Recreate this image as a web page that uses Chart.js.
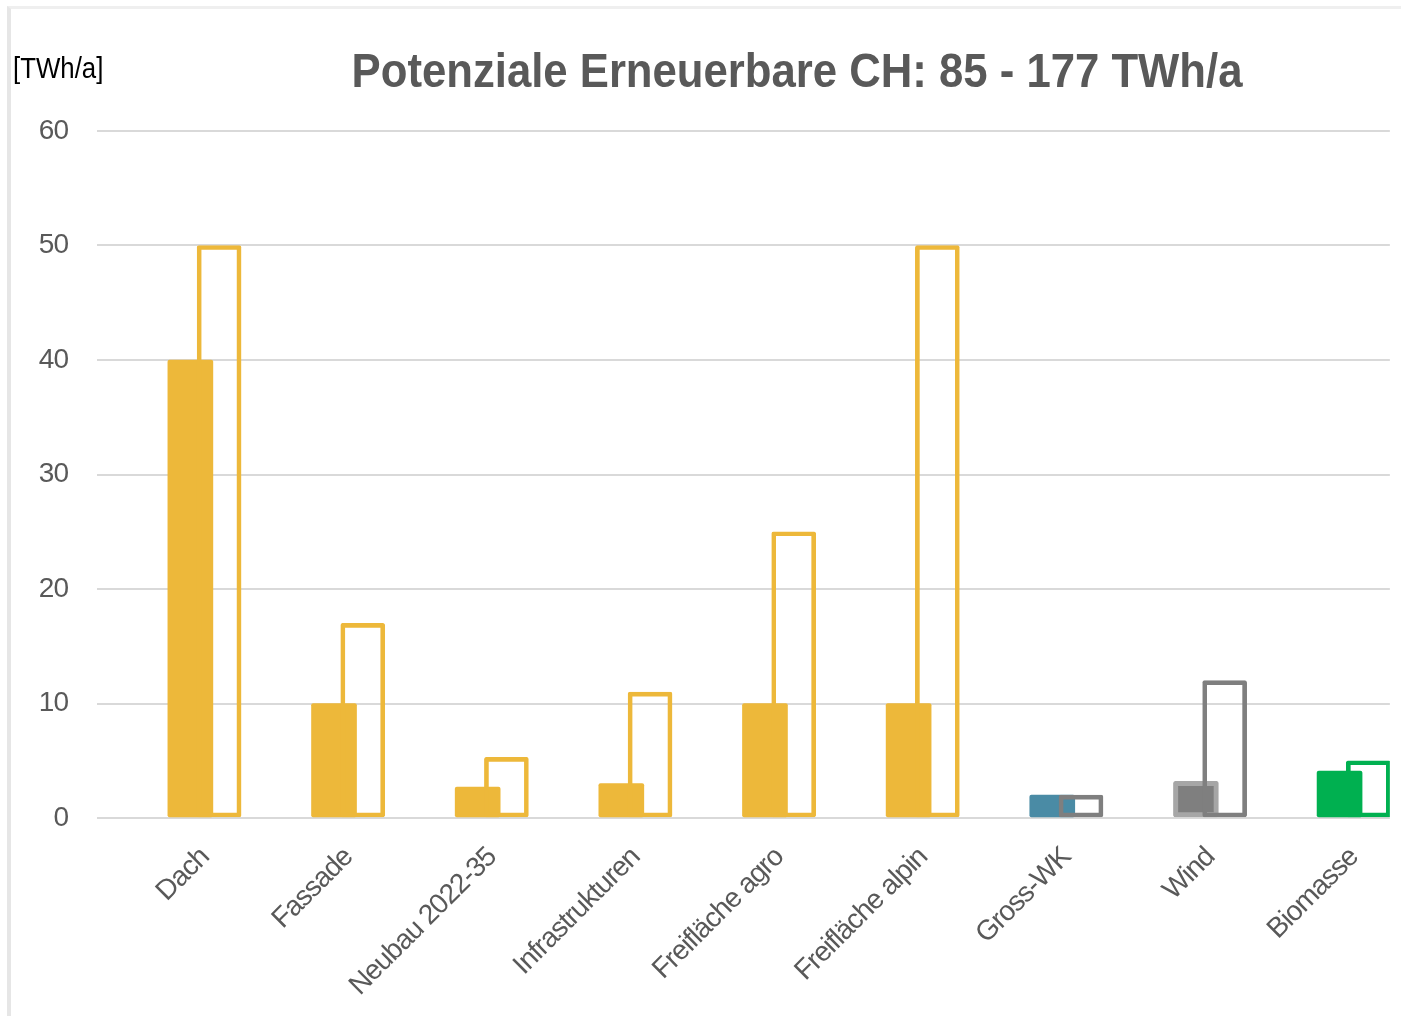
<!DOCTYPE html>
<html><head><meta charset="utf-8">
<script src="https://cdn.jsdelivr.net/npm/chart.js@4.4.1/dist/chart.umd.min.js"></script>
<style>
html,body{margin:0;padding:0;background:#fff;overflow:hidden;}
#wrap{position:relative;width:1401px;height:1016px;overflow:hidden;background:#fff;}
#frame{position:absolute;left:7px;top:6px;width:1500px;height:1100px;border-left:4px solid #e6e6e6;border-top:3px solid #efefef;}
canvas{position:absolute;left:0;top:0;}
</style></head>
<body><div id="wrap"><div id="frame"></div><canvas id="c" width="1401" height="1016"></canvas></div>
<script>
const categories = ['Dach', 'Fassade', 'Neubau 2022-35', 'Infrastrukturen', 'Freifläche agro', 'Freifläche alpin', 'Gross-WK', 'Wind', 'Biomasse'];
const minValues = [40, 10, 2.7, 3, 10, 10, 2, 3.2, 4.1];
const maxValues = [50, 17, 5.3, 11, 25, 50, 2, 12, 5];
const yTicks = [0, 10, 20, 30, 40, 50, 60];
const titleText = 'Potenziale Erneuerbare CH: 85 - 177 TWh/a';
const unitText = '[TWh/a]';

const FONT = '"Liberation Sans Narrow", "Arial Narrow", "Liberation Sans", Arial, sans-serif';
const yellow = '#EDB83A', blue = '#4A8BA5', grey = '#7F7F7F', lightGrey = '#A6A6A6', green = '#00B050';
const minFill = [yellow, yellow, yellow, yellow, yellow, yellow, blue, grey, green];
const minBorder = [yellow, yellow, yellow, yellow, yellow, yellow, blue, lightGrey, green];
const minBorderW = [0, 0, 0, 0, 0, 0, 0, 5, 0];
const maxLine = [yellow, yellow, yellow, yellow, yellow, yellow, grey, grey, green];

// draws condensed text (horizontal squeeze) to imitate a narrow face
function narrowText(ctx, text, x, y, font, color, align, squeeze) {
  ctx.save();
  ctx.font = font;
  ctx.fillStyle = color;
  ctx.textAlign = align;
  ctx.textBaseline = 'alphabetic';
  ctx.letterSpacing = '0px';
  ctx.translate(x, y);
  ctx.scale(squeeze, 1);
  ctx.fillText(text, 0, 0);
  ctx.restore();
}

const textPlugin = {
  id: 'textPlugin',
  beforeDraw(chart) {
    chart.ctx.letterSpacing = '-1px';
  },
  afterDraw(chart) {
    const ctx = chart.ctx;
    narrowText(ctx, titleText, 797, 87, 'bold 48px ' + FONT, '#595959', 'center', 0.91);
    narrowText(ctx, unitText, 13, 78, '30px ' + FONT, '#000000', 'left', 0.86);
  }
};

new Chart(document.getElementById('c'), {
  type: 'bar',
  data: {
    datasets: [
      {
        label: 'Minimum',
        data: minValues.map((v, i) => ({ x: i - 0.1, y: v })),
        backgroundColor: minFill,
        borderColor: minBorder,
        borderWidth: minBorderW,
        borderSkipped: false,
        borderRadius: 2,
        barThickness: 45,
        grouped: false,
        order: 1
      },
      {
        label: 'Maximum',
        data: maxValues.map((v, i) => ({ x: i + 0.1, y: v })),
        backgroundColor: 'rgba(255,255,255,0)',
        borderColor: maxLine,
        borderWidth: 4,
        borderSkipped: false,
        borderRadius: 2,
        barThickness: 44,
        grouped: false,
        order: 0
      }
    ]
  },
  plugins: [textPlugin],
  options: {
    responsive: false,
    animation: false,
    layout: { padding: { left: 0, right: 11, top: 131, bottom: 0 } },
    plugins: {
      legend: { display: false },
      tooltip: { enabled: false },
      title: { display: false }
    },
    scales: {
      x: {
        type: 'linear',
        offset: false,
        min: -0.75,
        max: 8.25,
        afterBuildTicks: s => { s.ticks = categories.map((_, i) => ({ value: i })); },
        afterFit: s => { s.height = 198; },
        grid: { display: false, drawTicks: false, offset: false },
        border: { display: false },
        ticks: {
          callback: v => categories[v] ?? '',
          autoSkip: false,
          maxRotation: 45,
          minRotation: 45,
          color: '#595959',
          font: { family: FONT, size: 28 },
          padding: 23
        }
      },
      y: {
        min: 0,
        max: 60,
        afterBuildTicks: s => { s.ticks = yTicks.map(v => ({ value: v })); },
        afterFit: s => { s.width = 97; },
        grid: { color: '#d9d9d9', lineWidth: 2, drawTicks: false },
        border: { display: false },
        ticks: {
          color: '#595959',
          font: { family: FONT, size: 28 },
          padding: 29
        }
      }
    }
  }
});
</script>
</body></html>
